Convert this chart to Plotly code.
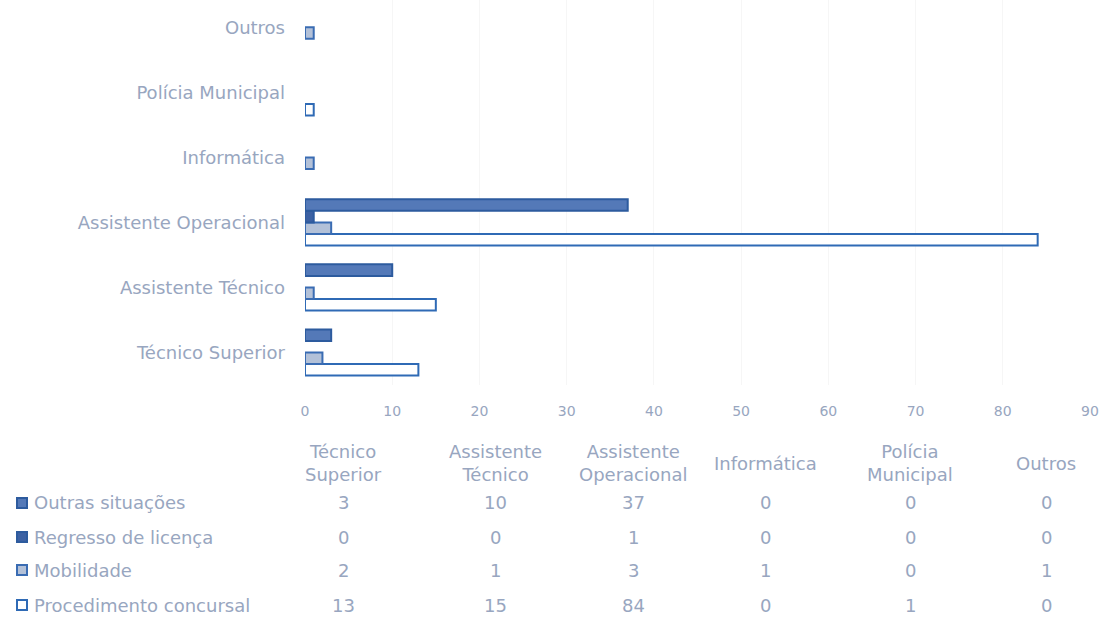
import plotly.graph_objects as go

categories = ["Técnico Superior", "Assistente Técnico", "Assistente Operacional",
              "Informática", "Polícia Municipal", "Outros"]
header_labels = ["Técnico<br>Superior", "Assistente<br>Técnico", "Assistente<br>Operacional",
                 "Informática", "Polícia<br>Municipal", "Outros"]
series_names = ["Outras situações", "Regresso de licença", "Mobilidade", "Procedimento concursal"]
outras = [3, 10, 37, 0, 0, 0]
regresso = [0, 0, 1, 0, 0, 0]
mobilidade = [2, 1, 3, 1, 0, 1]
procedimento = [13, 15, 84, 0, 1, 0]
x_ticks = [0, 10, 20, 30, 40, 50, 60, 70, 80, 90]

values = [outras, regresso, mobilidade, procedimento]
fills = ["#5479b8", "#3c61a3", "#b3c1d8", "#ffffff"]
lines = ["#2d5b9e", "#2d5b9e", "#3a6cb3", "#2f6ab5"]

TXT = "#98a6c0"
FONT = "DejaVu Sans"
FS = 18

W, H = 1102, 617
L, R, T, B = 305, 12, 0, 232
PW = W - L - R
PH = H - T - B


def px(xs):
    return (xs - L) / PW


def py(ys):
    return (T + PH - ys) / PH


fig = go.Figure()
# bottom-to-top order within group: Procedimento, Mobilidade, Regresso, Outras
for i in [3, 2, 1, 0]:
    vals = [v if v != 0 else None for v in values[i]]
    fig.add_trace(go.Bar(
        y=categories, x=vals, orientation="h", name=series_names[i],
        marker=dict(color=fills[i], line=dict(color=lines[i], width=2)),
        showlegend=False,
    ))

fig.update_layout(
    width=W, height=H,
    margin=dict(l=L, r=R, t=T, b=B),
    paper_bgcolor="white", plot_bgcolor="white",
    barmode="group", bargap=0.29, bargroupgap=0,
    font=dict(family=FONT, color=TXT, size=FS),
)
fig.update_xaxes(range=[0, 90], tickvals=x_ticks, showgrid=True, gridcolor="#f6f6f6",
                 zeroline=False, showline=False, tickfont=dict(size=14, color=TXT),
                 ticks="", ticklabelstandoff=16)
# top of plot sits slightly above the visible area in the reference
fig.update_yaxes(categoryorder="array", categoryarray=categories, range=[-0.5, 5.42],
                 showgrid=False, showline=False, ticks="",
                 tickfont=dict(size=FS, color=TXT), ticklabelstandoff=19)

# Data table
col_x = [343, 495, 633, 765, 910, 1046]
row_y = [503, 537, 570, 605]
for cx, lab in zip(col_x, header_labels):
    fig.add_annotation(x=px(cx), y=py(463), xref="paper", yref="paper", text=lab,
                       showarrow=False, font=dict(size=FS, color=TXT, family=FONT),
                       xanchor="center", yanchor="middle", align="center")
for r, (name, vals) in enumerate(zip(series_names, values)):
    yy = row_y[r]
    fig.add_shape(type="rect", xref="paper", yref="paper",
                  x0=px(17), x1=px(27), y0=py(yy + 5), y1=py(yy - 5),
                  fillcolor=fills[r], line=dict(color=lines[r], width=2))
    fig.add_annotation(x=px(32), y=py(yy), xref="paper", yref="paper", text=name,
                       showarrow=False, font=dict(size=FS, color=TXT, family=FONT),
                       xanchor="left", yanchor="middle")
    for cx, v in zip(col_x, vals):
        fig.add_annotation(x=px(cx), y=py(yy), xref="paper", yref="paper", text=str(v),
                           showarrow=False, font=dict(size=FS, color=TXT, family=FONT),
                           xanchor="center", yanchor="middle")

fig.write_html(
    "out.html",
    config={"displayModeBar": False},
    post_script="document.body.style.margin='0';"
                "document.documentElement.style.overflow='hidden';"
                "document.body.style.overflow='hidden';",
)
